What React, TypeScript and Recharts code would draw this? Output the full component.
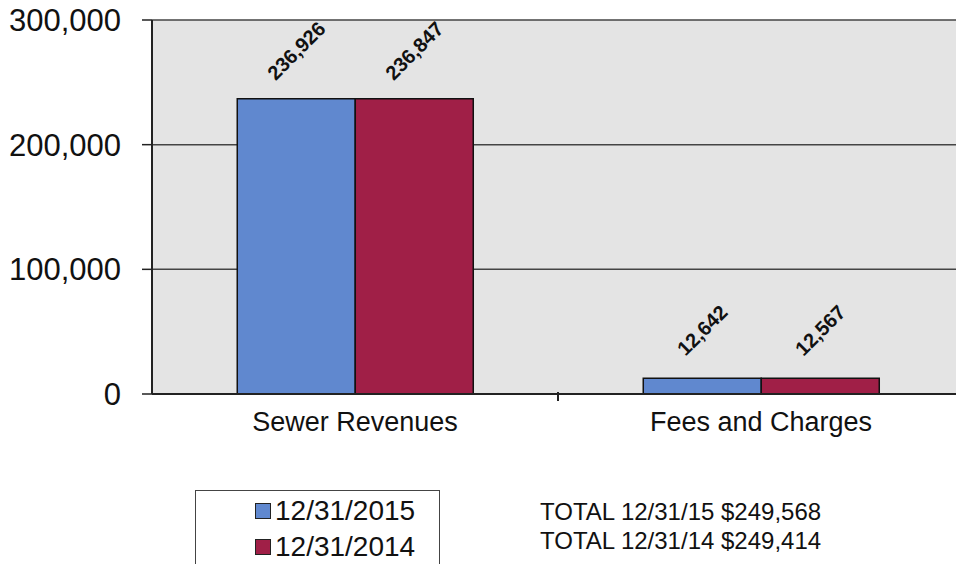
import { BarChart, Bar, XAxis, YAxis, CartesianGrid, Legend } from "recharts";

const categories = ["Sewer Revenues", "Fees and Charges"];
const values2015 = [236926, 12642];
const values2014 = [236847, 12567];
const yTicks = [0, 100000, 200000, 300000];
const seriesNames = ["12/31/2015", "12/31/2014"];
const totals = ["TOTAL 12/31/15 $249,568", "TOTAL 12/31/14 $249,414"];

const BLUE = "#6088cf";
const RED = "#a01f47";
const FONT = "Arial, 'Liberation Sans', sans-serif";

const data = categories.map((name, i) => ({
  name,
  y2015: values2015[i],
  y2014: values2014[i],
}));

function fmt(v: number): string {
  return v.toLocaleString("en-US");
}

function RotatedLabel(props: any) {
  const { x, y, width, value } = props;
  const cx = x + width / 2;
  const cy = y - 48;
  return (
    <text
      x={cx}
      y={cy}
      textAnchor="middle"
      dominantBaseline="central"
      transform={`rotate(-45, ${cx}, ${cy})`}
      fontSize={20}
      fontWeight={600}
      fill="#111"
      fontFamily={FONT}
    >
      {fmt(value)}
    </text>
  );
}

function CategoryTick(props: any) {
  const { x, y, payload, index } = props;
  const half = payload?.offset ?? 0;
  return (
    <g>
      <text x={x} y={y + 29} textAnchor="middle" fontSize={27} fill="#111" fontFamily={FONT}>
        {payload.value}
      </text>
      {index === 0 && half > 0 && (
        <line x1={x + half} x2={x + half} y1={y - 10} y2={y - 1} stroke="#222" strokeWidth={2} />
      )}
    </g>
  );
}

function LegendBox() {
  const colors = [BLUE, RED];
  return (
    <div style={{ position: "relative", height: 80, fontFamily: FONT }}>
      <div
        style={{
          position: "absolute",
          left: 195,
          top: 0,
          width: 245,
          height: 90,
          border: "1.5px solid #444",
          boxSizing: "border-box",
          paddingTop: 2,
        }}
      >
        {seriesNames.map((n, i) => (
          <div key={n} style={{ display: "flex", alignItems: "center", marginLeft: 59, height: 36 }}>
            <span
              style={{
                display: "inline-block",
                width: 14,
                height: 14,
                background: colors[i],
                border: "1.5px solid #222",
                marginRight: 4,
              }}
            />
            <span style={{ fontSize: 28, color: "#111" }}>{n}</span>
          </div>
        ))}
      </div>
      <div style={{ position: "absolute", left: 540, top: 7, fontSize: 24, lineHeight: "29px", color: "#111" }}>
        {totals.map((t) => (
          <div key={t}>{t}</div>
        ))}
      </div>
    </div>
  );
}

export default function App() {
  return (
    <div
      style={{
        position: "absolute",
        left: 0,
        top: 0,
        width: 956,
        height: 564,
        background: "#fff",
        overflow: "hidden",
      }}
    >
      <BarChart
        width={964}
        height={564}
        data={data}
        margin={{ top: 20, right: 0, left: 0, bottom: 0 }}
        barCategoryGap="21%"
        barGap={0}
      >
        <CartesianGrid
          vertical={false}
          stroke="#444"
          strokeWidth={1.5}
          fill="#e4e4e4"
          fillOpacity={1}
        />
        <XAxis
          dataKey="name"
          tick={<CategoryTick />}
          tickLine={false}
          axisLine={{ stroke: "#222", strokeWidth: 2 }}
          height={96}
          interval={0}
        />
        <YAxis
          width={152}
          domain={[0, 300000]}
          ticks={yTicks}
          tickFormatter={fmt}
          tick={{ fontSize: 31, fill: "#111", fontFamily: FONT }}
          tickSize={10}
          tickMargin={21}
          tickLine={{ stroke: "#222", strokeWidth: 1.5 }}
          axisLine={{ stroke: "#222", strokeWidth: 2 }}
        />
        <Legend
          verticalAlign="bottom"
          height={74}
          content={() => <LegendBox />}
          wrapperStyle={{ left: 0, width: 956, bottom: 0 }}
        />
        <Bar dataKey="y2015" name={seriesNames[0]} fill={BLUE} stroke="#111" strokeWidth={1.5} isAnimationActive={false} label={<RotatedLabel />} />
        <Bar dataKey="y2014" name={seriesNames[1]} fill={RED} stroke="#111" strokeWidth={1.5} isAnimationActive={false} label={<RotatedLabel />} />
      </BarChart>
    </div>
  );
}
